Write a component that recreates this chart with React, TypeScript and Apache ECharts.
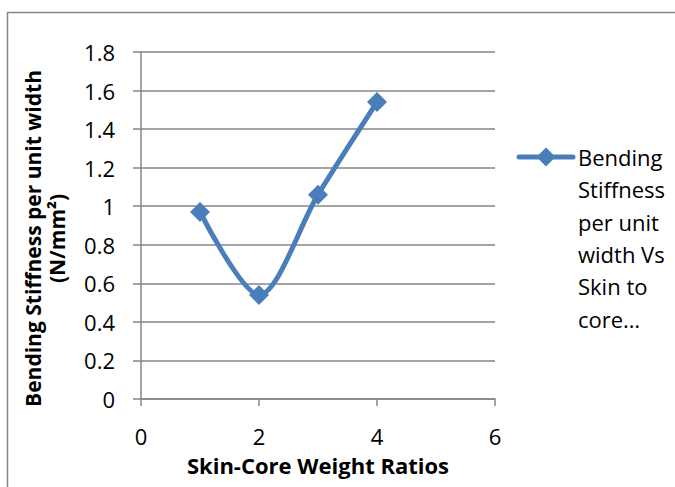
import React, { useEffect, useRef } from "react";
import * as echarts from "echarts";

const xValues = [1, 2, 3, 4];
const yValues = [0.97, 0.54, 1.06, 1.54];
const seriesName = "Bending Stiffness per unit width Vs Skin to core weight ratio";
const legendLines = ["Bending", "Stiffness", "per unit", "width Vs", "Skin to", "core…"];
const xAxisTitle = "Skin-Core Weight Ratios";
const yAxisTitle = "Bending Stiffness per unit width\n(N/mm²)";

const FONT = "'Open Sans', Lato, sans-serif";
const BLUE = "#4A7EBB";
const GRAY = "#868686";

export default function App() {
  const ref = useRef<HTMLDivElement>(null);
  useEffect(() => {
    if (!ref.current) return;
    const chart = echarts.init(ref.current, undefined, { renderer: "svg" });
    const data = xValues.map((x, i) => [x, yValues[i]]);
    chart.setOption({
      animation: false,
      backgroundColor: "#ffffff",
      textStyle: { fontFamily: FONT },
      grid: { left: 141, top: 52, right: 180, bottom: 88, containLabel: false },
      xAxis: {
        type: "value",
        min: 0,
        max: 6,
        interval: 2,
        name: xAxisTitle,
        nameLocation: "middle",
        nameGap: 55,
        nameTextStyle: { fontFamily: FONT, fontWeight: "bold", fontSize: 22, color: "#000" },
        axisLine: { show: true, lineStyle: { color: GRAY, width: 1.5 } },
        axisTick: { show: true, length: 7, lineStyle: { color: GRAY, width: 1.5 } },
        axisLabel: { margin: 26, fontSize: 22, color: "#000", fontFamily: FONT },
        splitLine: { show: false },
      },
      yAxis: {
        type: "value",
        min: 0,
        max: 1.8,
        interval: 0.2,
        name: yAxisTitle,
        nameLocation: "middle",
        nameGap: 72,
        nameTextStyle: {
          fontFamily: FONT,
          fontWeight: "bold",
          fontSize: 21,
          lineHeight: 24,
          color: "#000",
          padding: [0, 26, 0, 0],
        },
        axisLine: { show: true, lineStyle: { color: GRAY, width: 1.5 } },
        axisTick: { show: true, length: 8, lineStyle: { color: GRAY, width: 1.5 } },
        axisLabel: { margin: 26, fontSize: 22, color: "#000", fontFamily: FONT },
        splitLine: { show: true, lineStyle: { color: GRAY, width: 1.5 } },
      },
      series: [
        {
          name: seriesName,
          type: "line",
          data,
          smooth: 0.3,
          symbol: "diamond",
          symbolSize: 20,
          lineStyle: { color: BLUE, width: 5 },
          itemStyle: { color: BLUE },
        },
      ],
      graphic: [
        {
          type: "rect",
          shape: { x: 7.5, y: 12.5, width: 700, height: 500 },
          style: { fill: "none", stroke: GRAY, lineWidth: 1.5 },
          z: -1,
        },
        {
          type: "line",
          shape: { x1: 519, y1: 157, x2: 573, y2: 157 },
          style: { stroke: BLUE, lineWidth: 5, lineCap: "round" },
        },
        {
          type: "polygon",
          shape: { points: [[546, 147.5], [555.5, 157], [546, 166.5], [536.5, 157]] },
          style: { fill: BLUE },
        },
        {
          type: "text",
          x: 578,
          y: 141,
          style: {
            text: legendLines.join("\n"),
            fontFamily: FONT,
            fontSize: 22,
            lineHeight: 32.3,
            fill: "#000",
            verticalAlign: "top",
          },
        },
      ],
    });
    return () => chart.dispose();
  }, []);
  return (
    <div
      ref={ref}
      style={{ position: "fixed", left: 0, top: 0, width: 675, height: 487 }}
    />
  );
}
